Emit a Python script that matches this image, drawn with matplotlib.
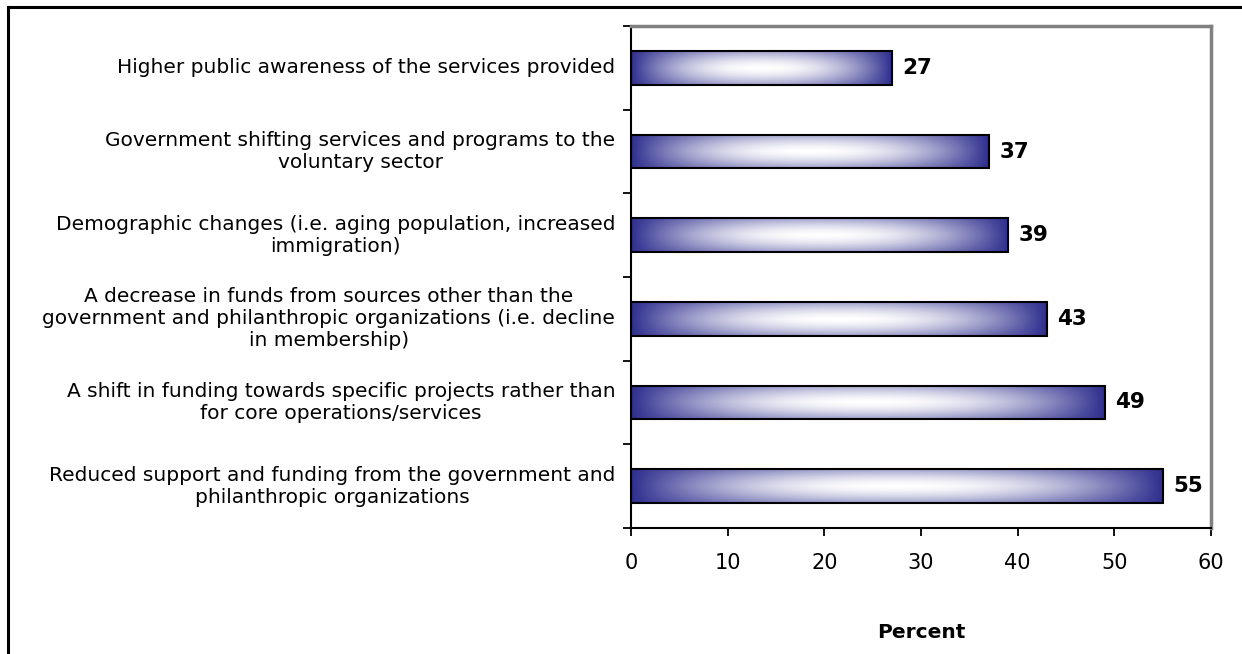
import numpy as np
import matplotlib
matplotlib.use('Agg')
import matplotlib.pyplot as plt
from matplotlib.colors import LinearSegmentedColormap
from matplotlib.patches import Rectangle
from matplotlib.lines import Line2D

categories = [
    "Higher public awareness of the services provided",
    "Government shifting services and programs to the\nvoluntary sector",
    "Demographic changes (i.e. aging population, increased\nimmigration)",
    "A decrease in funds from sources other than the\ngovernment and philanthropic organizations (i.e. decline\nin membership)",
    "A shift in funding towards specific projects rather than\nfor core operations/services",
    "Reduced support and funding from the government and\nphilanthropic organizations",
]
percent = [27, 37, 39, 43, 49, 55]
xticks = [0, 10, 20, 30, 40, 50, 60]

plt.rcParams['font.family'] = ['DejaVu Sans']

fig = plt.figure(figsize=(12.42, 6.54), dpi=100)
ax = fig.add_axes([631 / 1242, 1 - 528 / 654, 580 / 1242, 502 / 654])

# dark blue -> white -> dark blue shading, darker along the top/bottom edges
cmap = LinearSegmentedColormap.from_list('bar', ['#2f2f8f', '#ffffff'])
gx = np.linspace(-1, 1, 300)
gy = np.linspace(-1, 1, 40)
hx = 1 - np.abs(gx) ** 2.2
vy = 1 - 0.45 * np.abs(gy) ** 1.6
shade = np.outer(vy, hx)

n = len(categories)
height = 0.4
for i, (label, val) in enumerate(zip(categories, percent)):
    y = n - 1 - i
    ax.imshow(shade, cmap=cmap, vmin=0, vmax=1, aspect='auto',
              extent=(0, val, y - height / 2, y + height / 2), zorder=2)
    ax.add_patch(Rectangle((0, y - height / 2), val, height, fill=False,
                           edgecolor='black', linewidth=1.5, zorder=3))
    ax.text(val + 1.1, y, str(val), va='center', ha='left',
            fontsize=15.5, fontweight='bold', color='black')

ax.set_xlim(0, 60)
ax.set_ylim(-0.5, n - 0.5)
ax.set_xticks(xticks)
ax.set_xticklabels([str(t) for t in xticks], fontsize=15)
ax.set_yticks(np.arange(-0.5, n, 1.0))
ax.set_yticklabels([])
ax.tick_params(axis='x', direction='out', length=6, width=1.3, pad=12)
ax.tick_params(axis='y', direction='out', length=6, width=1.3)

for i, label in enumerate(categories):
    ax.text(-0.027, n - 1 - i, label, transform=ax.get_yaxis_transform(),
            ha='right', va='center', multialignment='center', fontsize=14.5,
            linespacing=1.2)

ax.spines['left'].set_linewidth(1.5)
ax.spines['bottom'].set_linewidth(1.5)
ax.spines['top'].set_color('#808080')
ax.spines['right'].set_color('#808080')
ax.spines['top'].set_linewidth(2.5)
ax.spines['right'].set_linewidth(2.5)

ax.set_xlabel('Percent', fontsize=14.5, fontweight='bold', labelpad=36)

# outer frame, open on the right and bottom
fig.add_artist(Line2D([8 / 1242, 1.0], [1 - 7 / 654, 1 - 7 / 654],
                      transform=fig.transFigure, color='black', linewidth=2.2))
fig.add_artist(Line2D([8 / 1242, 8 / 1242], [0.0, 1 - 7 / 654],
                      transform=fig.transFigure, color='black', linewidth=2.2))

fig.savefig('out.png', dpi=100)
